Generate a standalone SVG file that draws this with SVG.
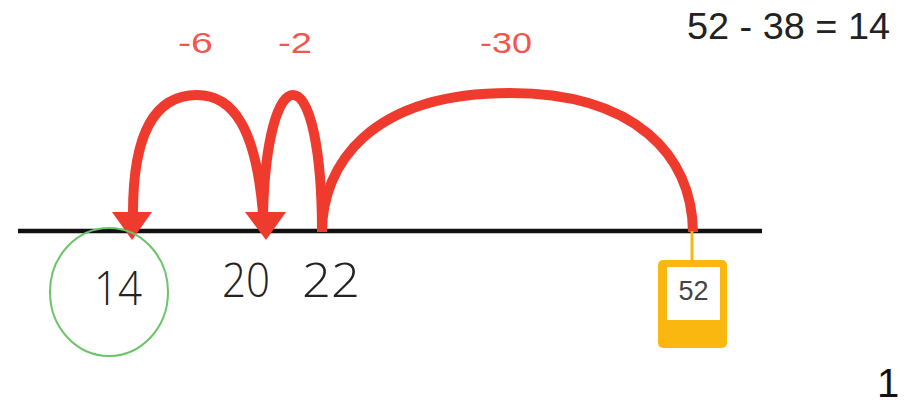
<svg xmlns="http://www.w3.org/2000/svg" width="906" height="407" viewBox="0 0 906 407">
<style>
.arc{fill:none;stroke:#ef3b2d;stroke-width:10;stroke-linecap:butt}
.head{fill:#ef3b2d}
.lbl{font-family:"Liberation Sans",Arial,sans-serif;font-size:29px;fill:#f2564c}
.hand{font-family:"Open Sans","DejaVu Sans",sans-serif;font-weight:300;font-size:48px;fill:#222}
</style>
<rect width="906" height="407" fill="#fff"/>
<g id="numberline">
<line x1="18" y1="231" x2="762" y2="231" stroke="#111" stroke-width="4.5"/>
</g>
<g id="connectors">
<path class="arc" d="M133,213 C133,125 160,95 197,95 C234,95 256,130 263,213"/>
<path class="arc" d="M263,213 C265,140 278,95 293,95 C310,95 322,150 322,232"/>
<path class="arc" stroke-width="9" d="M322,232 C322,165 370,93 510,93 C635,93 692,155 693,232"/>
<polygon class="head" points="112,212 152,212 132,240"/>
<polygon class="head" points="245,212 286,212 266,240"/>
</g>
<g id="label-m6"><text class="lbl" x="178" y="53" textLength="35" lengthAdjust="spacingAndGlyphs">-6</text></g>
<g id="label-m2"><text class="lbl" x="278" y="53" textLength="34" lengthAdjust="spacingAndGlyphs">-2</text></g>
<g id="label-m30"><text class="lbl" x="480" y="53" textLength="52" lengthAdjust="spacingAndGlyphs">-30</text></g>
<g id="equation"><text x="687" y="39" font-family="Liberation Sans,Arial,sans-serif" font-size="36" fill="#222" textLength="203" lengthAdjust="spacingAndGlyphs">52 - 38 = 14</text></g>
<g id="node-14">
<ellipse cx="109" cy="292" rx="59" ry="64" fill="none" stroke="#6cc46a" stroke-width="2"/>
<text class="hand" x="94" y="305" textLength="48" lengthAdjust="spacingAndGlyphs">14</text>
</g>
<g id="node-20"><text class="hand" x="222" y="297" textLength="48" lengthAdjust="spacingAndGlyphs">20</text></g>
<g id="node-22"><text class="hand" x="302" y="297" textLength="58" lengthAdjust="spacingAndGlyphs">22</text></g>
<g id="node-52">
<line x1="692" y1="231" x2="692" y2="262" stroke="#f9b710" stroke-width="3"/>
<rect x="658" y="260" width="69" height="88" rx="5" fill="#f9b710"/>
<rect x="667" y="267" width="53" height="53" fill="#fff"/>
<text x="693.5" y="300" text-anchor="middle" font-family="Liberation Sans,Arial,sans-serif" font-size="27" fill="#444">52</text>
</g>
<g id="page-number"><text x="877" y="397" font-family="Liberation Sans,Arial,sans-serif" font-size="40" fill="#111">1</text></g>
</svg>
